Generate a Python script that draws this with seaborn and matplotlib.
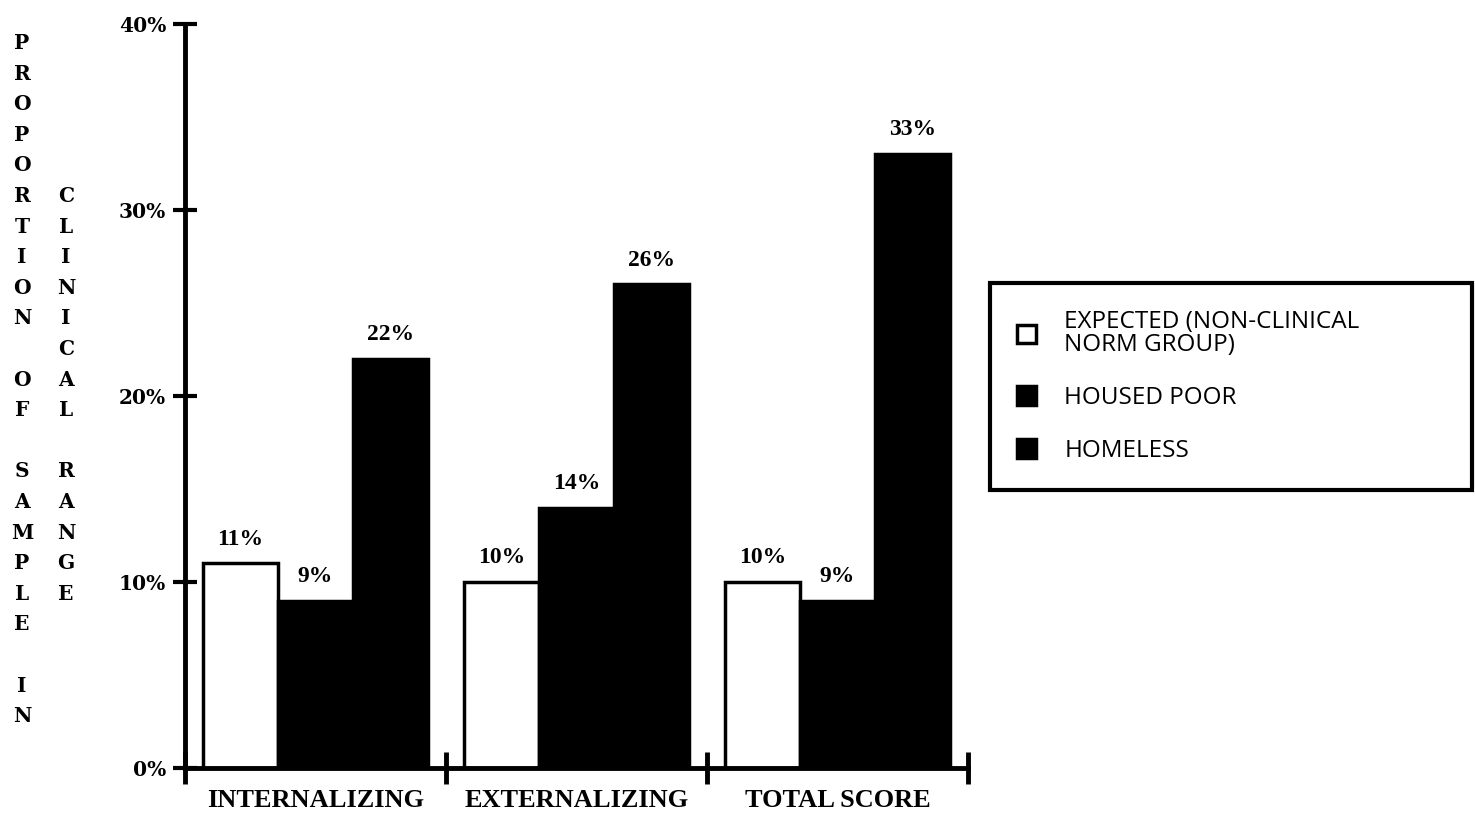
import numpy as np
import pandas as pd
import seaborn as sns
import matplotlib.pyplot as plt
from matplotlib.patches import Patch

# Scales and group results (percent of each sample in the clinical range)
categories = ["INTERNALIZING", "EXTERNALIZING", "TOTAL SCORE"]
groups = ["EXPECTED (NON-CLINICAL\nNORM GROUP)", "HOUSED POOR", "HOMELESS"]
expected = [11, 10, 10]
housed_poor = [9, 14, 9]
homeless = [22, 26, 33]
y_ticks = [0, 10, 20, 30, 40]
y_tick_labels = ["0%", "10%", "20%", "30%", "40%"]
group_colors = ["white", "black", "black"]

# Stacked-letter y title, two columns
title_col1 = list("PROPORTION") + [""] + list("OF") + [""] + list("SAMPLE") + [""] + list("IN")
title_col2 = list("CLINICAL") + [""] + list("RANGE")

df = pd.DataFrame({
    "scale": categories * 3,
    "group": [g for g in groups for _ in categories],
    "pct": expected + housed_poor + homeless,
})

sns.set_theme(style="white")
plt.rcParams.update({"text.color": "black", "xtick.color": "black",
                     "ytick.color": "black", "axes.labelcolor": "black"})
W, H = 1475, 821
fig = plt.figure(figsize=(W / 100, H / 100), dpi=100)
ax = fig.add_axes([185 / W, 1 - 768 / H, (968 - 185) / W, (768 - 24) / H])

sns.barplot(data=df, x="scale", y="pct", hue="group", order=categories,
            hue_order=groups, palette=group_colors, width=0.86,
            edgecolor="black", linewidth=2.5, saturation=1,
            errorbar=None, legend=False, ax=ax)

serif_bold = dict(family="Liberation Serif", fontweight="bold")
for container in ax.containers:
    ax.bar_label(container, fmt="{:g}%", padding=10, fontsize=17,
                 color="black", **serif_bold)

ax.set_xlim(-0.5, 2.5)
ax.set_ylim(0, 40)
ax.set_yticks(y_ticks)
ax.set_yticklabels(y_tick_labels, family="DejaVu Serif", fontweight="bold",
                   fontsize=14.5, color="black")
ax.set_xticks(range(len(categories)))
ax.set_xticklabels(categories, fontsize=19, color="black", **serif_bold)
ax.set_xticks([-0.5, 0.5, 1.5, 2.5], minor=True)
ax.set_xlabel("")
ax.set_ylabel("")

sns.despine(ax=ax)
for side in ("left", "bottom"):
    ax.spines[side].set_linewidth(3.5)
    ax.spines[side].set_color("black")

ax.tick_params(axis="y", which="major", left=True, direction="inout",
               length=17, width=3, pad=5, colors="black")
ax.tick_params(axis="x", which="major", bottom=True, length=0, pad=15,
               colors="black")
ax.tick_params(axis="x", which="minor", bottom=True, direction="inout",
               length=23, width=3.5, color="black")

# Stacked letters of the y title
top_px, pitch = 43, 30.6
letter_style = dict(ha="center", va="center", family="DejaVu Serif",
                    fontweight="bold", fontsize=14.5, color="black")
for r, ch in enumerate(title_col1):
    if ch:
        fig.text(22 / W, 1 - (top_px + r * pitch) / H, ch, **letter_style)
for r, ch in enumerate(title_col2, start=5):
    if ch:
        fig.text(66 / W, 1 - (top_px + r * pitch) / H, ch, **letter_style)

# Legend
handles = [Patch(facecolor=c, edgecolor="black", linewidth=2.5) for c in group_colors]
leg = fig.legend(handles, groups, loc="upper left",
                 bbox_to_anchor=(990 / W, 1 - 283 / H, (1472 - 990) / W, 0),
                 mode="expand", prop={"family": "Open Sans", "size": 17.5},
                 fancybox=False, framealpha=1, edgecolor="black",
                 handlelength=0.8, handleheight=0.8, handletextpad=1.15,
                 borderpad=1.1, labelspacing=1.2, borderaxespad=0)
leg.get_frame().set_linewidth(3)
for t in leg.get_texts():
    t.set_linespacing(0.95)

fig.savefig("out.png", dpi=100)
